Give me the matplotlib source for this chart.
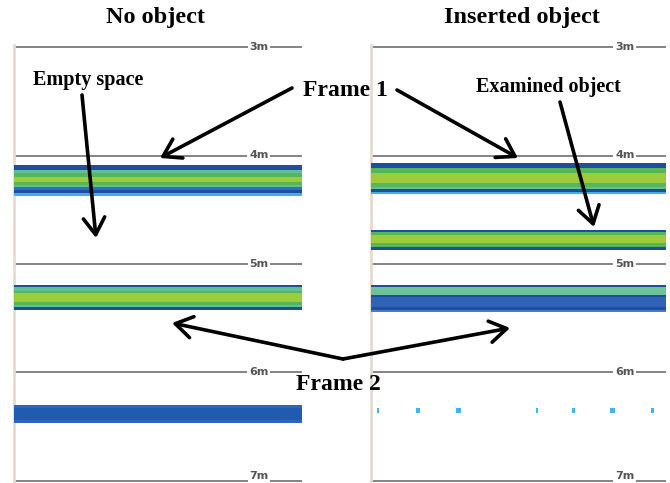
import matplotlib
matplotlib.use("Agg")
import matplotlib.pyplot as plt
from matplotlib.patches import FancyArrowPatch

# ---------------- data (depth in metres) ----------------
panel_titles = ["No object", "Inserted object"]
grid_depths = [3, 4, 5, 6, 7]
grid_labels = ["3m", "4m", "5m", "6m", "7m"]

# echo layers: (top depth, bottom depth, layer class)
left_layers_top = [4.09, 4.13, 4.16, 4.20, 4.24, 4.27, 4.29, 4.32, 4.35,
                   5.194, 5.212, 5.249, 5.267, 5.350, 5.378, 5.396,
                   6.300, 6.327, 6.440]
left_layers_bot = [4.13, 4.16, 4.20, 4.24, 4.27, 4.29, 4.32, 4.35, 4.37,
                   5.212, 5.249, 5.267, 5.350, 5.378, 5.396, 5.424,
                   6.327, 6.440, 6.470]
left_layers_cls = ["dark", "teal", "green", "yg", "green", "teal", "blue", "dark", "light",
                   "dark", "teal", "green", "yg", "green", "teal", "dark",
                   "mid", "blue2", "mid"]

right_layers_top = [4.069, 4.115, 4.161, 4.253, 4.290, 4.310, 4.336,
                    4.687, 4.705, 4.733, 4.806, 4.843,
                    5.194, 5.212, 5.286, 5.304, 5.396, 5.424]
right_layers_bot = [4.115, 4.161, 4.253, 4.290, 4.310, 4.336, 4.355,
                    4.705, 4.733, 4.806, 4.843, 4.871,
                    5.212, 5.286, 5.304, 5.396, 5.424, 5.442]
right_layers_cls = ["dark", "green", "yg", "green", "teal", "dark", "light",
                    "dark", "green", "yg", "green", "dark",
                    "dark", "teal2", "dark", "mid2", "dark", "blue3"]

# sparse weak echoes at ~6.35 m in the right panel (horizontal position, fraction)
speck_x = [0.024, 0.159, 0.295, 0.563, 0.685, 0.820, 0.953]
speck_w = [0.005, 0.014, 0.017, 0.005, 0.010, 0.017, 0.010]
speck_top = 6.327
speck_bot = 6.373

layer_colors = {
    "dark": "#1f4e9e", "teal": "#5fbf95", "green": "#57b65a", "yg": "#9dcb3a",
    "blue": "#2f6fbf", "light": "#45aee6", "mid": "#2a66c0", "blue2": "#1f5cb0",
    "teal2": "#6cc49b", "mid2": "#2f63b5", "blue3": "#3a7fd0",
}

W, H = 670, 483
fig = plt.figure(figsize=(W / 100, H / 100), dpi=100)
fig.patch.set_facecolor("white")

px_per_m = (481 - 47) / 4.0
depth_top = 3 - (47 - 45) / px_per_m
depth_bot = 3 + (483 - 47) / px_per_m

panels = [
    (14, 302, left_layers_top, left_layers_bot, left_layers_cls, 0.85),
    (371, 666, right_layers_top, right_layers_bot, right_layers_cls, 0.86),
]

axes = []
for (x0, x1, tops, bots, cls, lab_x) in panels:
    ax = fig.add_axes([x0 / W, 0, (x1 - x0) / W, (483 - 45) / H])
    ax.set_xlim(0, 1)
    ax.set_ylim(depth_bot, depth_top)
    for s in ["top", "right", "bottom"]:
        ax.spines[s].set_visible(False)
    ax.spines["left"].set_color("#e6dccb")
    ax.spines["left"].set_linewidth(2)
    ax.set_xticks([])
    ax.set_yticks([])
    for i, (d, lab) in enumerate(zip(grid_depths, grid_labels)):
        ax.axhline(d, color="#6e6e6e", lw=1.2, zorder=1)
        last = i == len(grid_depths) - 1
        ax.text(lab_x, d, lab, ha="center", va="bottom" if last else "center",
                fontsize=8, fontweight="bold", color="#555555", zorder=2,
                bbox=dict(boxstyle="square,pad=0.15", fc="white", ec="none"),
                clip_on=False)
    ax.bar([0.5] * len(tops), [b - t for t, b in zip(tops, bots)], width=1.0,
           bottom=tops, color=[layer_colors[c] for c in cls], linewidth=0,
           zorder=3)
    axes.append(ax)

axes[1].bar(speck_x, [speck_bot - speck_top] * len(speck_x), width=speck_w,
            bottom=speck_top, color="#45b4ee", linewidth=0, zorder=3)

serif = ["Liberation Serif", "DejaVu Serif"]


def fx(x):
    return x / W


def fy(y):
    return 1 - y / H


fig.text(fx(155), fy(18), panel_titles[0], ha="center", va="center",
         fontsize=17.5, fontweight="bold", family=serif)
fig.text(fx(522), fy(18), panel_titles[1], ha="center", va="center",
         fontsize=17.5, fontweight="bold", family=serif)
fig.text(fx(88), fy(80), "Empty space", ha="center", va="center",
         fontsize=14.5, fontweight="bold", family=serif)
fig.text(fx(345), fy(90), "Frame 1", ha="center", va="center",
         fontsize=17, fontweight="bold", family=serif)
fig.text(fx(548), fy(87), "Examined object", ha="center", va="center",
         fontsize=14.5, fontweight="bold", family=serif)
fig.text(fx(338), fy(385), "Frame 2", ha="center", va="center",
         fontsize=17, fontweight="bold", family=serif)

arrows = [
    ((292, 88), (160, 158)),
    ((397, 90), (518, 158)),
    ((82, 95), (96, 238)),
    ((560, 102), (594, 227)),
    ((343, 359), (172, 323)),
    ((343, 359), (510, 328)),
]
for (a, b) in arrows:
    fig.add_artist(FancyArrowPatch((fx(a[0]), fy(a[1])), (fx(b[0]), fy(b[1])),
                                   transform=fig.transFigure,
                                   arrowstyle="->,head_length=0.55,head_width=0.35",
                                   mutation_scale=22, lw=2.6, color="black",
                                   shrinkA=0, shrinkB=0, zorder=10))

fig.savefig("out.png", dpi=100)
